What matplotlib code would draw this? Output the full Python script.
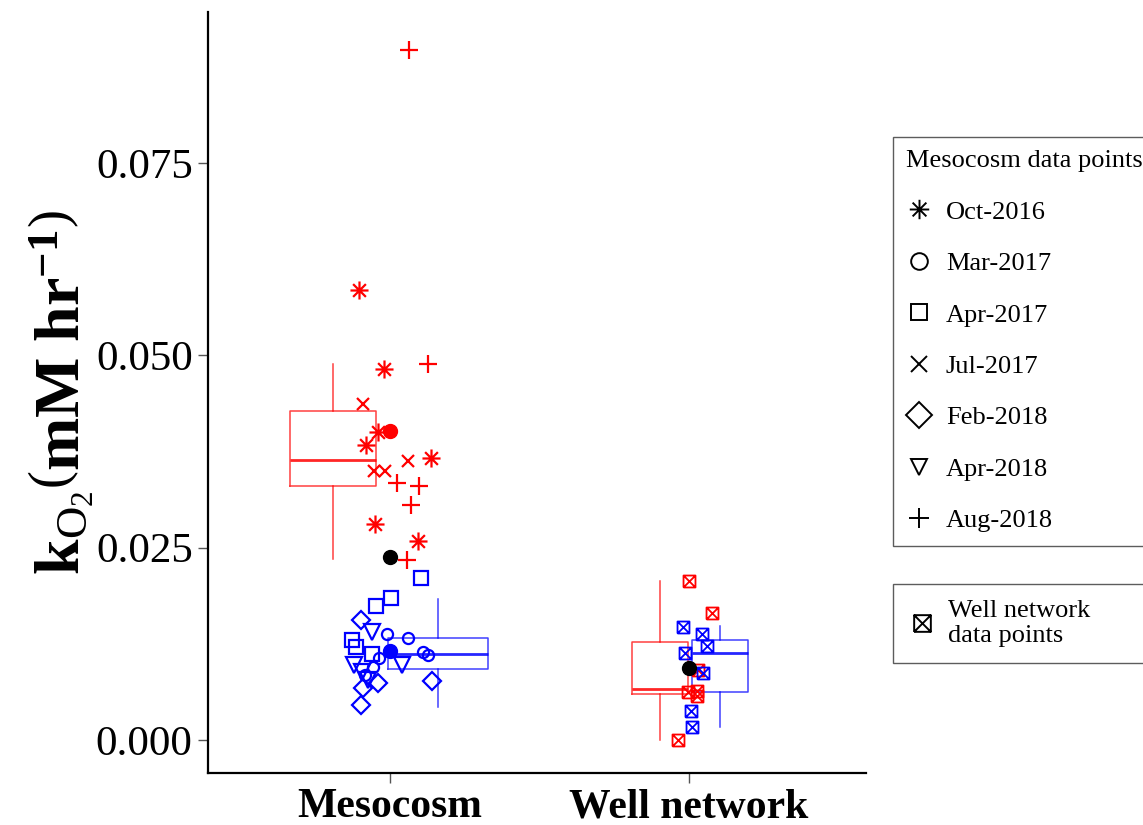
import matplotlib
matplotlib.use("Agg")
import matplotlib.pyplot as plt
from matplotlib.path import Path
from matplotlib.lines import Line2D
import numpy as np

plt.rcParams['font.family'] = ['Liberation Serif', 'DejaVu Serif']
plt.rcParams['mathtext.fontset'] = 'custom'
plt.rcParams['mathtext.rm'] = 'Liberation Serif'
plt.rcParams['mathtext.bf'] = 'Liberation Serif:bold'
plt.rcParams['mathtext.it'] = 'Liberation Serif:italic'

# ---------------- data ----------------
categories = ["Mesocosm", "Well network"]
yticks = [0.000, 0.025, 0.050, 0.075]
ytick_labels = ["0.000", "0.025", "0.050", "0.075"]

# Mesocosm, red group (value, jitter offset in category units)
oct2016_vals = [0.0585, 0.0482, 0.0400, 0.0383, 0.0367, 0.0281, 0.0258]
oct2016_jit = [-0.104, -0.020, -0.040, -0.080, 0.137, -0.050, 0.094]
jul2017_vals = [0.0436, 0.0362, 0.0350, 0.0350]
jul2017_jit = [-0.090, 0.060, -0.054, -0.017]
aug2018_vals = [0.0897, 0.0488, 0.0334, 0.0330, 0.0305, 0.0234]
aug2018_jit = [0.064, 0.127, 0.023, 0.097, 0.070, 0.057]

# Mesocosm, blue group
mar2017_vals = [0.0138, 0.0133, 0.0114, 0.0110, 0.0106, 0.0095, 0.0084]
mar2017_jit = [-0.010, 0.060, 0.110, 0.127, -0.037, -0.057, -0.084]
apr2017_vals = [0.0210, 0.0185, 0.0174, 0.0130, 0.0121, 0.0112]
apr2017_jit = [0.104, 0.003, -0.047, -0.127, -0.114, -0.060]
feb2018_vals = [0.0156, 0.0077, 0.0074, 0.0068, 0.0045]
feb2018_jit = [-0.097, 0.140, -0.040, -0.090, -0.097]
apr2018_vals = [0.0140, 0.0097, 0.0097, 0.0088, 0.0078]
apr2018_jit = [-0.060, -0.120, 0.040, -0.094, -0.074]

# Well network points
well_red_vals = [0.0206, 0.0165, 0.0091, 0.0063, 0.0064, 0.0057, 0.0000]
well_red_jit = [0.000, 0.077, 0.030, -0.003, 0.027, 0.027, -0.037]
well_blue_vals = [0.0147, 0.0138, 0.0122, 0.0113, 0.0087, 0.0038, 0.0017]
well_blue_jit = [-0.020, 0.043, 0.060, -0.013, 0.047, 0.007, 0.010]

# Box statistics: [meso red, meso blue, well red, well blue]
box_whislo = [0.0235, 0.0043, 0.0000, 0.0017]
box_q1 = [0.0330, 0.0092, 0.0060, 0.0062]
box_med = [0.0364, 0.0112, 0.0066, 0.0113]
box_q3 = [0.0428, 0.0133, 0.0127, 0.0130]
box_whishi = [0.0489, 0.0183, 0.0207, 0.0148]
box_offset = [-0.191, 0.161, -0.097, 0.104]
box_width = [0.288, 0.334, 0.187, 0.187]
box_cat = [0, 0, 1, 1]
box_color = ["red", "blue", "red", "blue"]

# Means
mean_red_meso = 0.0401
mean_blue_meso = 0.0115
mean_all = [0.0238, 0.0094]

# ---------------- markers ----------------
r = 0.7071
asterisk = Path([(0, -1), (0, 1), (-1, 0), (1, 0), (-r, -r), (r, r), (-r, r), (r, -r)],
                [Path.MOVETO, Path.LINETO] * 4)
boxx = Path([(-1, -1), (1, -1), (1, 1), (-1, 1), (-1, -1), (-1, -1), (1, 1), (-1, 1), (1, -1)],
            [Path.MOVETO, Path.LINETO, Path.LINETO, Path.LINETO, Path.LINETO,
             Path.MOVETO, Path.LINETO, Path.MOVETO, Path.LINETO])

fig = plt.figure(figsize=(11.43, 8.25), dpi=100)
ax = fig.add_axes([208 / 1143, 1 - 773 / 825, (866 - 208) / 1143, (773 - 12) / 825])

xpos = np.arange(1, len(categories) + 1)

# boxes
for i in range(4):
    st = dict(whislo=box_whislo[i], q1=box_q1[i], med=box_med[i], q3=box_q3[i],
              whishi=box_whishi[i], fliers=[])
    c = box_color[i]
    ax.bxp([st], positions=[xpos[box_cat[i]] + box_offset[i]], widths=[box_width[i]],
           showcaps=False, showfliers=False, patch_artist=False,
           boxprops=dict(color=c, linewidth=1.1, alpha=0.75),
           whiskerprops=dict(color=c, linewidth=1.1, alpha=0.75),
           medianprops=dict(color=c, linewidth=2.0, alpha=0.85))

def pts(vals, jit, cat, marker, color, ms, mew=1.6):
    x = xpos[cat] + np.array(jit)
    ax.plot(x, vals, linestyle='none', marker=marker, ms=ms, mfc='none',
            mec=color, mew=mew, zorder=3)

pts(oct2016_vals, oct2016_jit, 0, asterisk, 'red', 13)
pts(jul2017_vals, jul2017_jit, 0, 'x', 'red', 9)
pts(aug2018_vals, aug2018_jit, 0, '+', 'red', 13)
pts(mar2017_vals, mar2017_jit, 0, 'o', 'blue', 8)
pts(apr2017_vals, apr2017_jit, 0, 's', 'blue', 9.5)
pts(feb2018_vals, feb2018_jit, 0, 'D', 'blue', 9)
pts(apr2018_vals, apr2018_jit, 0, 'v', 'blue', 11)
pts(well_red_vals, well_red_jit, 1, boxx, 'red', 8.6, 1.3)
pts(well_blue_vals, well_blue_jit, 1, boxx, 'blue', 8.6, 1.3)

ax.plot([xpos[0]], [mean_red_meso], 'o', color='red', ms=10, zorder=4)
ax.plot([xpos[0]], [mean_blue_meso], 'o', color='blue', ms=10, zorder=4)
ax.plot(xpos, mean_all, 'o', color='black', ms=10, linestyle='none', zorder=5)

# axes styling
ax.set_xlim(0.391, 2.592)
ax.set_ylim(-0.00429, 0.0946)
ax.set_xticks(xpos)
ax.set_xticklabels(categories, fontsize=30, fontweight='bold')
ax.set_yticks(yticks)
ax.set_yticklabels(ytick_labels, fontsize=31)
for s in ['top', 'right']:
    ax.spines[s].set_visible(False)
for s in ['left', 'bottom']:
    ax.spines[s].set_linewidth(1.6)
ax.tick_params(axis='both', length=7, width=1.0, color='#555555')
ax.tick_params(axis='y', pad=4)
ax.tick_params(axis='x', pad=4)
ax.set_ylabel(r'$\mathbf{k}_{\mathrm{O_2}}\left(\mathbf{mM\ hr^{-1}}\right)$', fontsize=46, labelpad=0)

# legends
leg_labels = ["Oct-2016", "Mar-2017", "Apr-2017", "Jul-2017", "Feb-2018", "Apr-2018", "Aug-2018"]
leg_markers = [asterisk, 'o', 's', 'x', 'D', 'v', '+']
leg_sizes = [14, 12, 12, 12, 13, 11, 14]
handles = [Line2D([], [], linestyle='none', marker=m, ms=s, mfc='none', mec='black', mew=1.4)
           for m, s in zip(leg_markers, leg_sizes)]
leg1 = fig.legend(handles, leg_labels, title="Mesocosm data points", loc='upper left',
                  bbox_to_anchor=(893 / 1143, 1 - 137 / 825), fontsize=19, title_fontsize=19,
                  alignment='left', frameon=True, fancybox=False, edgecolor='#333333',
                  labelspacing=1.06, handlelength=1.0, handletextpad=0.5, borderpad=0.5,
                  borderaxespad=0)
leg1.get_frame().set_linewidth(1.0)

h2 = [Line2D([], [], linestyle='none', marker=boxx, ms=12, mfc='none', mec='black', mew=1.4)]
leg2 = fig.legend(h2, ["Well network\ndata points"], loc='upper left',
                  bbox_to_anchor=(893 / 1143, 1 - 664 / 825, 270 / 1143, 80 / 825),
                  mode='expand', fontsize=19,
                  frameon=True, fancybox=False, edgecolor='#333333',
                  handlelength=1.0, handletextpad=0.5, borderpad=0.6, borderaxespad=0)
leg2.get_frame().set_linewidth(1.0)

fig.savefig("out.png", dpi=100, facecolor='white')
